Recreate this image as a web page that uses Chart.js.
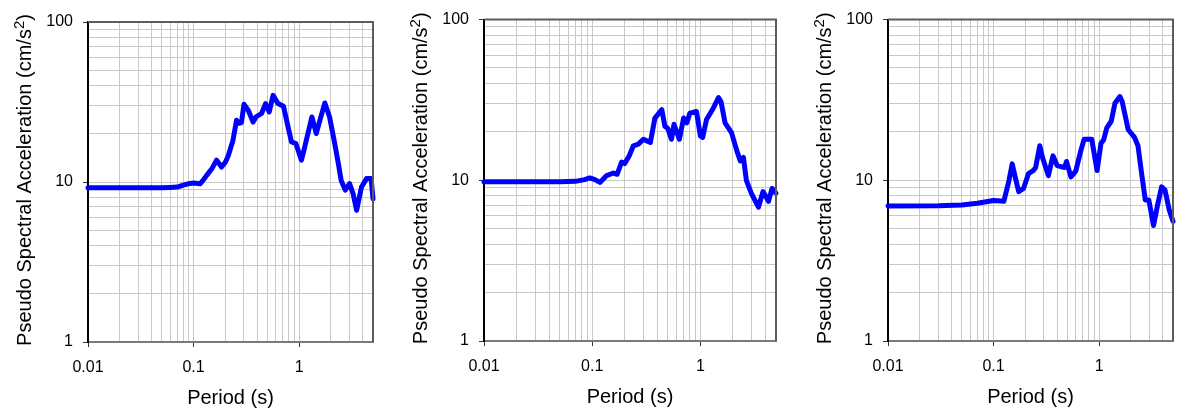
<!DOCTYPE html>
<html>
<head>
<meta charset="utf-8">
<script src="https://cdn.jsdelivr.net/npm/chart.js@4.4.1/dist/chart.umd.min.js"></script>
<style>
  body { margin: 0; background: #fff; width: 1184px; height: 416px; overflow: hidden; position: relative; }
  canvas { position: absolute; top: 0; }
</style>
</head>
<body>
<canvas id="c1" width="395" height="416" style="left:0px"></canvas>
<canvas id="c2" width="395" height="416" style="left:395px"></canvas>
<canvas id="c3" width="394" height="416" style="left:790px"></canvas>
<script>
// values (period in s, PSA in cm/s2)
const period1 = [0.01, 0.02, 0.03, 0.05, 0.06, 0.07, 0.08, 0.092, 0.1, 0.115, 0.125, 0.133, 0.15, 0.165, 0.184, 0.2, 0.213, 0.236, 0.255, 0.27, 0.284, 0.3, 0.33, 0.366, 0.39, 0.44, 0.48, 0.52, 0.566, 0.63, 0.71, 0.785, 0.845, 0.93, 1.05, 1.12, 1.21, 1.32, 1.45, 1.57, 1.75, 1.94, 2.17, 2.35, 2.5, 2.73, 3.0, 3.24, 3.5, 3.89, 4.34, 4.8, 5.0];
const psa1 = [9.2, 9.2, 9.2, 9.2, 9.25, 9.3, 9.55, 9.8, 9.85, 9.75, 10.4, 11.0, 12.2, 13.7, 12.4, 13.3, 14.6, 18.2, 24.3, 23.3, 23.5, 30.6, 28.0, 23.7, 25.5, 26.8, 30.9, 27.4, 34.8, 30.9, 29.7, 22.1, 17.8, 17.4, 13.7, 16.2, 20.1, 25.5, 20.1, 24.3, 31.2, 25.5, 17.4, 13.0, 10.2, 8.9, 9.77, 8.45, 6.65, 9.3, 10.5, 10.5, 7.87];

const period2 = [0.01, 0.03, 0.05, 0.07, 0.085, 0.095, 0.106, 0.118, 0.136, 0.157, 0.17, 0.187, 0.2, 0.22, 0.24, 0.267, 0.297, 0.32, 0.345, 0.38, 0.44, 0.47, 0.5, 0.54, 0.57, 0.6, 0.64, 0.7, 0.75, 0.8, 0.92, 1.0, 1.05, 1.14, 1.32, 1.47, 1.55, 1.69, 1.94, 2.17, 2.34, 2.5, 2.66, 2.96, 3.44, 3.79, 4.0, 4.26, 4.6, 5.0];
const psa2 = [9.8, 9.8, 9.8, 9.85, 10.1, 10.35, 10.1, 9.7, 10.7, 11.1, 10.9, 13.0, 12.7, 14.2, 16.4, 16.8, 18.0, 17.6, 17.2, 24.4, 27.5, 21.7, 21.0, 18.0, 22.3, 20.3, 18.0, 24.4, 22.8, 26.2, 26.8, 18.9, 18.5, 23.9, 28.2, 32.7, 30.9, 22.8, 19.8, 15.3, 13.2, 13.9, 10.0, 8.3, 6.8, 8.5, 8.0, 7.4, 8.9, 8.3];

const period3 = [0.01, 0.03, 0.05, 0.07, 0.1, 0.125, 0.14, 0.15, 0.16, 0.173, 0.192, 0.214, 0.237, 0.25, 0.274, 0.29, 0.33, 0.365, 0.4, 0.47, 0.49, 0.54, 0.6, 0.67, 0.72, 0.85, 0.955, 1.04, 1.1, 1.18, 1.3, 1.41, 1.57, 1.65, 1.88, 2.16, 2.33, 2.5, 2.73, 2.95, 3.27, 3.55, 3.9, 4.2, 4.6, 5.0];
const psa3 = [6.93, 6.95, 7.03, 7.2, 7.48, 7.4, 10.0, 12.65, 10.5, 8.5, 8.9, 11.0, 11.5, 12.0, 16.4, 13.9, 10.7, 14.2, 12.35, 12.0, 13.1, 10.5, 11.4, 15.3, 18.0, 18.0, 11.5, 17.0, 17.8, 21.2, 23.3, 30.2, 33.2, 30.9, 20.7, 18.5, 16.4, 11.5, 7.55, 7.55, 5.23, 6.88, 9.1, 8.69, 6.55, 5.56];

const xGrid = [0.01, 0.02, 0.03, 0.04, 0.05, 0.06, 0.07, 0.08, 0.09, 0.1, 0.2, 0.3, 0.4, 0.5, 0.6, 0.7, 0.8, 0.9, 1, 2, 3, 4, 5];
const yGrid = [1, 2, 3, 4, 5, 6, 7, 8, 9, 10, 20, 30, 40, 50, 60, 70, 80, 90, 100];
const xLabels = [0.01, 0.1, 1];
const yLabels = [1, 10, 100];

const FONT = '"Liberation Sans", Arial, sans-serif';

// plot frame (top/right) and the two axis titles
const framePlugin = {
    id: 'frame',
    afterDraw(chart) {
        const ctx = chart.ctx;
        const a = chart.chartArea;
        ctx.save();
        ctx.strokeStyle = '#5c5c5c';
        ctx.lineWidth = 2;
        ctx.beginPath();
        ctx.moveTo(a.left, a.top);
        ctx.lineTo(a.right, a.top);
        ctx.lineTo(a.right, a.bottom);
        ctx.stroke();

        ctx.fillStyle = '#000';
        ctx.font = '20px ' + FONT;
        ctx.textAlign = 'center';
        ctx.textBaseline = 'alphabetic';
        ctx.fillText('Period (s)', (a.left + a.right) / 2, a.bottom + 62);

        const main = 'Pseudo Spectral Acceleration (cm/s';
        const f1 = '20px ' + FONT, f2 = '15px ' + FONT;
        ctx.font = f1;
        const w1 = ctx.measureText(main).width;
        const w3 = ctx.measureText(')').width;
        ctx.font = f2;
        const w2 = ctx.measureText('2').width;
        ctx.translate(a.left - 57, (a.top + a.bottom) / 2 - 2);
        ctx.rotate(-Math.PI / 2);
        ctx.textAlign = 'left';
        const x0 = -(w1 + w2 + w3) / 2;
        ctx.font = f1;
        ctx.fillText(main, x0, 0);
        ctx.font = f2;
        ctx.fillText('2', x0 + w1, -7);
        ctx.font = f1;
        ctx.fillText(')', x0 + w1 + w2, 0);
        ctx.restore();
    }
};

function makeChart(id, period, psa, pad, yWidth, xHeight) {
    return new Chart(id, {
        type: 'line',
        data: {
            datasets: [{
                data: period.map((p, i) => ({ x: p, y: psa[i] })),
                borderColor: '#0000ff',
                borderWidth: 5,
                pointRadius: 0,
                tension: 0,
                borderJoinStyle: 'round',
                borderCapStyle: 'round',
                clip: false,
            }]
        },
        options: {
            responsive: false,
            animation: false,
            events: [],
            layout: { padding: { top: pad.top, right: pad.right, left: 0, bottom: 0 } },
            plugins: { legend: { display: false }, tooltip: { enabled: false } },
            scales: {
                x: {
                    type: 'logarithmic',
                    min: 0.01,
                    max: 5,
                    afterBuildTicks: (s) => { s.ticks = xGrid.map(v => ({ value: v })); },
                    afterFit: (s) => { s.height = xHeight; },
                    ticks: {
                        autoSkip: false,
                        maxRotation: 0,
                        padding: 11,
                        color: '#000',
                        font: { family: FONT, size: 16 },
                        callback: (v) => xLabels.includes(v) ? String(v) : '',
                    },
                    grid: {
                        color: '#c8c8c8',
                        lineWidth: 1,
                        tickLength: 5,
                        tickColor: (c) => xLabels.includes(c.tick.value) ? '#333' : 'rgba(0,0,0,0)',
                    },
                    border: { color: '#7a7a7a', width: 2 },
                },
                y: {
                    type: 'logarithmic',
                    min: 1,
                    max: 100,
                    afterBuildTicks: (s) => { s.ticks = yGrid.map(v => ({ value: v })); },
                    afterFit: (s) => { s.width = yWidth; },
                    ticks: {
                        autoSkip: false,
                        padding: 10,
                        color: '#000',
                        font: { family: FONT, size: 16 },
                        callback: (v) => yLabels.includes(v) ? String(v) : '',
                    },
                    grid: {
                        color: '#c8c8c8',
                        lineWidth: 1,
                        tickLength: 5,
                        tickColor: (c) => yLabels.includes(c.tick.value) ? '#333' : 'rgba(0,0,0,0)',
                    },
                    border: { color: '#000', width: 2 },
                }
            }
        },
        plugins: [framePlugin]
    });
}

makeChart('c1', period1, psa1, { top: 22, right: 22 }, 88, 74);
makeChart('c2', period2, psa2, { top: 14, right: 14 }, 89, 75);
makeChart('c3', period3, psa3, { top: 14, right: 5 }, 98, 75);
</script>
</body>
</html>
